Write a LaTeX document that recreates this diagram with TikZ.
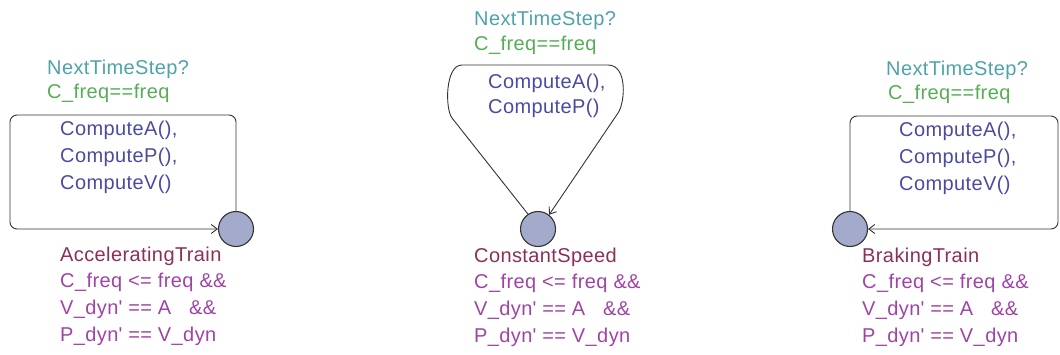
\documentclass[tikz,border=0pt]{standalone}
\usepackage{fontspec}
\setmainfont{Liberation Sans}[LetterSpace=2]
\usetikzlibrary{arrows.meta}
\definecolor{synccol}{HTML}{4FA3A8}
\definecolor{guardcol}{HTML}{55AE55}
\definecolor{updcol}{HTML}{4A4AA3}
\definecolor{namecol}{HTML}{8C2F57}
\definecolor{invcol}{HTML}{A043A6}
\definecolor{locfill}{HTML}{A3AACB}
\definecolor{edgecol}{HTML}{333333}
\newcommand{\apo}{\textquotesingle}
\tikzset{
  loc/.style={circle, draw=edgecol, fill=locfill, line width=1.1pt, minimum size=35pt, inner sep=0pt},
  lbl/.style={anchor=base west, inner sep=0pt, font=\fontsize{20pt}{24pt}\selectfont},
  synclbl/.style={lbl, text=synccol},
  guardlbl/.style={lbl, text=guardcol},
  updlbl/.style={lbl, text=updcol},
  namelbl/.style={lbl, text=namecol},
  invlbl/.style={lbl, text=invcol},
  trans/.style={draw=edgecol, line width=0.9pt, -{Straight Barb[length=6pt,width=9pt]}},
}
\begin{document}
\begin{tikzpicture}[x=1pt,y=-1pt]
\useasboundingbox (0,0) rectangle (1060,354);
% locations
\node[loc] (acc) at (236,229) {};
\node[loc] (cst) at (538,229) {};
\node[loc] (brk) at (850,229) {};
% loop corners
\coordinate (accTL) at (10,115);
\coordinate (brkTR) at (1058,116);
% transitions
\draw[trans, rounded corners=7pt] (acc.north) |- (accTL) |- (acc.west);
\draw[trans, rounded corners=7pt] (brk.north) |- (brkTR) |- (brk.east);
\draw[trans] (cst.124) -- (452,118) .. controls (445,109) and (445,65) .. (462,65)
  -- (608,65) .. controls (628,65) and (625,103) .. (618,113) -- (cst.52);
% left labels
\node[synclbl] (s1) at (47,74) {NextTimeStep?};
\node[guardlbl] (g1) at (47,98) {C\_freq==freq};
\node[updlbl] (u1a) at (60,135) {ComputeA(),};
\node[updlbl] (u1b) at (60,162) {ComputeP(),};
\node[updlbl] (u1c) at (60,189) {ComputeV()};
\node[namelbl] (n1) at (60,261) {AcceleratingTrain};
\node[invlbl] (i1a) at (60,287) {C\_freq <= freq \&\&};
\node[invlbl] (i1b) at (60,314) {V\_dyn\apo{} == A\ \ \ \&\&};
\node[invlbl] (i1c) at (60,341) {P\_dyn\apo{} == V\_dyn};
% middle labels
\node[synclbl] (s2) at (474,25) {NextTimeStep?};
\node[guardlbl] (g2) at (474,50) {C\_freq==freq};
\node[updlbl] (u2a) at (488,88) {ComputeA(),};
\node[updlbl] (u2b) at (488,113) {ComputeP()};
\node[namelbl] (n2) at (474,262) {ConstantSpeed};
\node[invlbl] (i2a) at (474,288) {C\_freq <= freq \&\&};
\node[invlbl] (i2b) at (474,315) {V\_dyn\apo{} == A\ \ \ \&\&};
\node[invlbl] (i2c) at (474,342) {P\_dyn\apo{} == V\_dyn};
% right labels
\node[synclbl] (s3) at (886,75) {NextTimeStep?};
\node[guardlbl] (g3) at (888,99) {C\_freq==freq};
\node[updlbl] (u3a) at (899,136) {ComputeA(),};
\node[updlbl] (u3b) at (899,163) {ComputeP(),};
\node[updlbl] (u3c) at (899,190) {ComputeV()};
\node[namelbl] (n3) at (862,262) {BrakingTrain};
\node[invlbl] (i3a) at (862,288) {C\_freq <= freq \&\&};
\node[invlbl] (i3b) at (862,315) {V\_dyn\apo{} == A\ \ \ \&\&};
\node[invlbl] (i3c) at (862,342) {P\_dyn\apo{} == V\_dyn};
\end{tikzpicture}
\end{document}
